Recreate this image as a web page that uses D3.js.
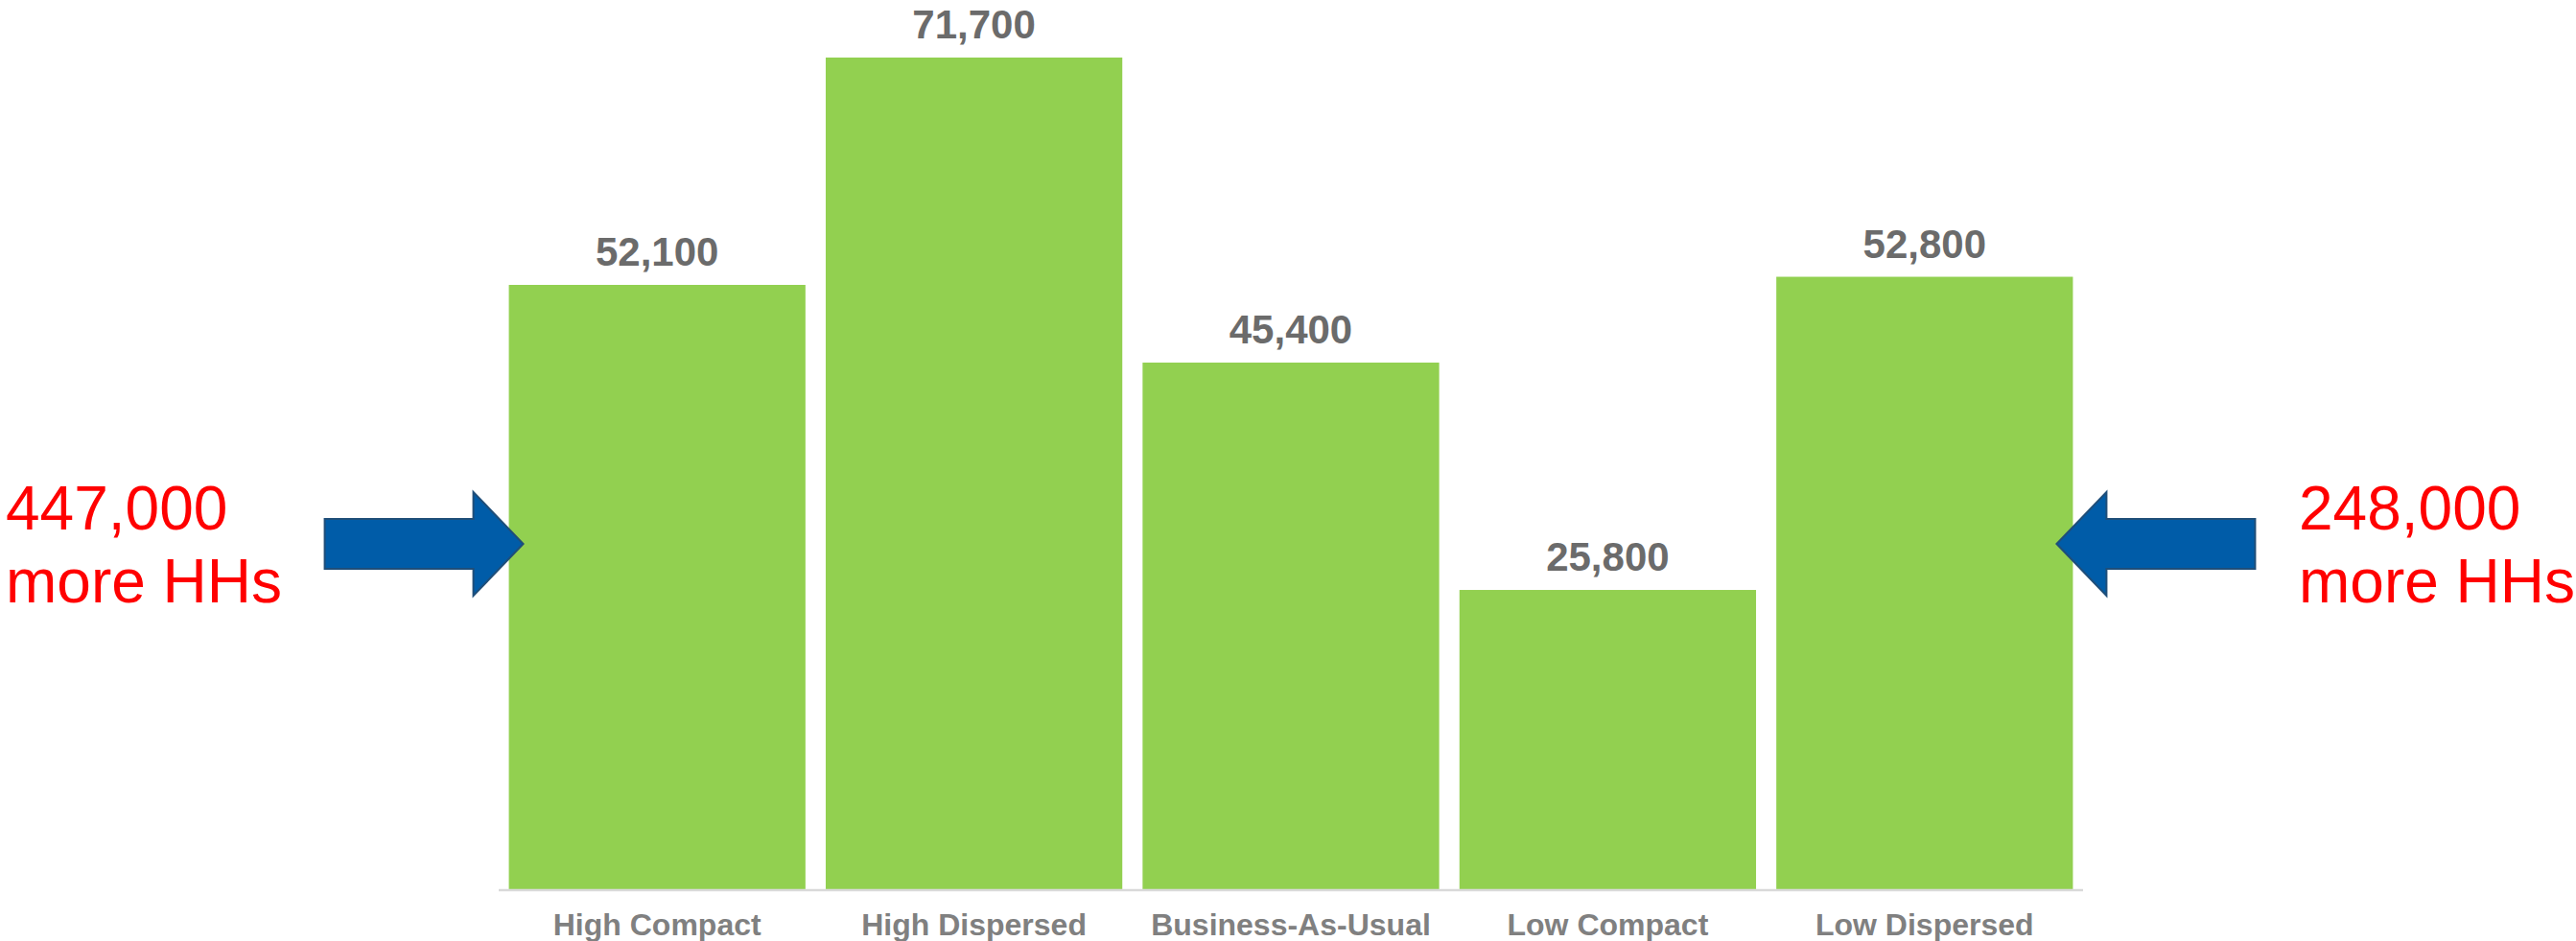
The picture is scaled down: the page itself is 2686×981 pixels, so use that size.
<!DOCTYPE html>
<meta charset="utf-8">
<style>
body { margin: 0; background: #fff; }
text { font-family: 'Liberation Sans', Arial, sans-serif; }
.value { font-size: 42px; font-weight: bold; fill: #6b6b6b; }
.cat { font-size: 32px; font-weight: bold; fill: #808080; }
.note { font-size: 64px; fill: #ff0000; }
</style>
<svg id="chart" width="2686" height="981"></svg>
<script src="https://cdnjs.cloudflare.com/ajax/libs/d3/7.8.5/d3.min.js"></script>
<script>

var categories = ["High Compact", "High Dispersed", "Business-As-Usual", "Low Compact", "Low Dispersed"];
var households = [52100, 71700, 45400, 25800, 52800];
var leftNote = ["447,000", "more HHs"];
var rightNote = ["248,000", "more HHs"];

var svg = d3.select("#chart");

var x = d3.scaleBand()
    .domain(categories)
    .range([520, 2172])
    .paddingInner(0.064)
    .paddingOuter(0.032);

var y = d3.scaleLinear()
    .domain([0, 71700])
    .range([927, 60]);

var fmt = d3.format(",");

svg.selectAll(".bar")
    .data(categories)
    .enter().append("rect")
    .attr("class", "bar")
    .attr("x", function(d) { return x(d); })
    .attr("y", function(d, i) { return y(households[i]); })
    .attr("width", x.bandwidth())
    .attr("height", function(d, i) { return y(0) - y(households[i]); })
    .attr("fill", "#92d050");

// baseline
svg.append("line")
    .attr("x1", x.range()[0]).attr("x2", x.range()[1])
    .attr("y1", y(0) + 1).attr("y2", y(0) + 1)
    .attr("stroke", "#d9d9d9")
    .attr("stroke-width", 2.5);

svg.selectAll(".value")
    .data(categories)
    .enter().append("text")
    .attr("class", "value")
    .attr("text-anchor", "middle")
    .attr("x", function(d) { return x(d) + x.bandwidth() / 2; })
    .attr("y", function(d, i) { return y(households[i]) - 20; })
    .text(function(d, i) { return fmt(households[i]); });

svg.selectAll(".cat")
    .data(categories)
    .enter().append("text")
    .attr("class", "cat")
    .attr("text-anchor", "middle")
    .attr("x", function(d) { return x(d) + x.bandwidth() / 2; })
    .attr("y", 975)
    .text(function(d) { return d; });

// block arrows, pointing at the outer bars
var arrowY = 567;
function arrowPath(tip, dir) {
    // dir = 1 points right, -1 points left
    var headLen = 52, shaftLen = 155, headHalf = 54, shaftHalf = 26;
    var b = tip - dir * headLen, e = b - dir * shaftLen;
    return "M" + e + "," + (arrowY - shaftHalf) +
        "L" + b + "," + (arrowY - shaftHalf) +
        "L" + b + "," + (arrowY - headHalf) +
        "L" + tip + "," + arrowY +
        "L" + b + "," + (arrowY + headHalf) +
        "L" + b + "," + (arrowY + shaftHalf) +
        "L" + e + "," + (arrowY + shaftHalf) + "Z";
}

svg.append("path")
    .attr("d", arrowPath(x(categories[0]) + 15, 1))
    .attr("fill", "#005ca8")
    .attr("stroke", "#1f4e79")
    .attr("stroke-width", 2);

svg.append("path")
    .attr("d", arrowPath(x(categories[4]) + x.bandwidth() - 17, -1))
    .attr("fill", "#005ca8")
    .attr("stroke", "#1f4e79")
    .attr("stroke-width", 2);

function note(lines, left) {
    var t = svg.append("text").attr("class", "note");
    lines.forEach(function(s, i) {
        t.append("tspan").attr("x", left).attr("y", 552 + i * 76).text(s);
    });
}
note(leftNote, 6);
note(rightNote, 2397);

</script>
